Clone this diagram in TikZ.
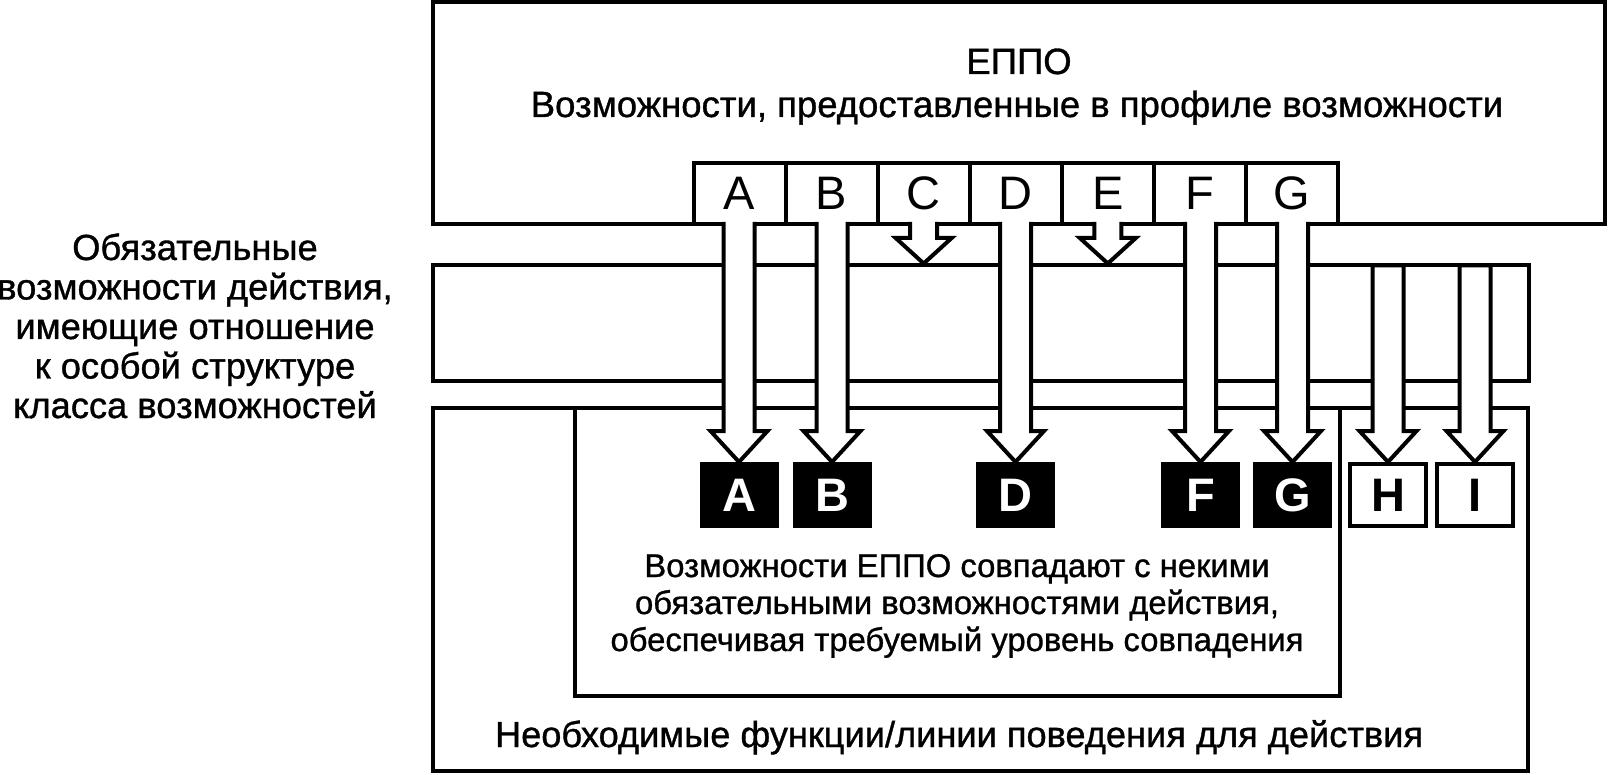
\documentclass[tikz,border=0pt]{standalone}
\usepackage{fontspec}
\setmainfont{Liberation Sans}
\newfontfamily\bodyfont[FakeBold=1]{Liberation Sans}
\usetikzlibrary{calc}
\begin{document}
\begin{tikzpicture}[x=1pt,y=-1pt,line width=4pt,line join=miter,
  frame/.style={draw=black,fill=none,inner sep=0pt,outer sep=0pt},
  tabst/.style={draw=black,inner sep=0pt,outer sep=0pt,minimum width=92.07pt,minimum height=61pt,font=\fontsize{47}{50}\selectfont},
  blk/.style={fill=black,draw=none,inner sep=0pt,outer sep=0pt,minimum width=79pt,minimum height=66pt,text=white,font=\fontsize{47}{50}\selectfont\bfseries},
  wbox/.style={draw=black,fill=white,inner sep=0pt,outer sep=0pt,minimum width=76pt,minimum height=62pt,font=\fontsize{47}{50}\selectfont\bfseries},
  txt/.style={inner sep=0pt,anchor=base},
  topfont/.style={font=\bodyfont\fontsize{36.5}{40}\selectfont},
  leftfont/.style={font=\bodyfont\fontsize{36.3}{40}\selectfont},
  innfont/.style={font=\bodyfont\fontsize{32.8}{37}\selectfont},
  btmfont/.style={font=\bodyfont\fontsize{36.2}{40}\selectfont},
  arrfill/.style={fill=white,draw=none},
  arrline/.style={draw=black,fill=none}]
\useasboundingbox (0,0) rectangle (1609,775);

% main frames
\node[frame,minimum width=1172pt,minimum height=222pt] (top) at (1019,113) {};
\node[frame,minimum width=1096pt,minimum height=116pt] (band) at (981,323.5) {};
\node[frame,minimum width=1095pt,minimum height=363pt] (bot) at (980.5,589.5) {};
\node[frame,minimum width=765.5pt,minimum height=287.5pt] (inner) at (957.25,551.75) {};

% tabs
\foreach \l [count=\i from 0] in {A,B,C,D,E,F,G}
  \node[tabst] (t\l) at ({693.5+46.035+92.07*\i},193.5) {\l};

% target boxes
\node[blk] (bA) at (739,495) {A};
\node[blk] (bB) at (832,495) {B};
\node[blk] (bD) at (1015.5,495) {D};
\node[blk] (bF) at (1200.5,495) {F};
\node[blk] (bG) at (1292.5,495) {G};

% big arrows from tabs to boxes
\foreach \l in {A,B,D,F,G}{
  \path (b\l.north |- t\l.south) coordinate (s) (b\l.north) coordinate (e);
  \fill[arrfill] ($(s)+(-15.5,-2)$) -- ($(e)+(-15.5,-31)$) -- ($(e)+(-28.5,-31)$) -- (e)
     -- ($(e)+(28.5,-31)$) -- ($(e)+(15.5,-31)$) -- ($(s)+(15.5,-2)$) -- cycle;
  \draw[arrline] ($(s)+(-15.5,-2)$) -- ($(e)+(-15.5,-31)$) -- ($(e)+(-28.5,-31)$) -- (e)
     -- ($(e)+(28.5,-31)$) -- ($(e)+(15.5,-31)$) -- ($(s)+(15.5,-2)$);
}
% small arrows from tabs C and E onto the band
\foreach \l in {C,E}{
  \path (t\l.south) coordinate (s) (t\l.south |- band.north) coordinate (e);
  \fill[arrfill] ($(s)+(-13.5,-2)$) -- ($(s)+(-13.5,14)$) -- ($(s)+(-28,14)$) -- ($(e)+(0,-2)$)
     -- ($(s)+(28,14)$) -- ($(s)+(13.5,14)$) -- ($(s)+(13.5,-2)$) -- cycle;
  \draw[arrline] ($(s)+(-13.5,-2)$) -- ($(s)+(-13.5,14)$) -- ($(s)+(-28,14)$) -- ($(e)+(0,-2)$)
     -- ($(s)+(28,14)$) -- ($(s)+(13.5,14)$) -- ($(s)+(13.5,-2)$);
}

% white boxes H and I
\node[wbox] (bH) at (1388,495) {H};
\node[wbox] (bI) at (1475,495) {I};
% arrows from the band to H and I
\foreach \l in {H,I}{
  \path (b\l.north |- band.north) coordinate (s) ($(b\l.north)+(0,-2)$) coordinate (e);
  \filldraw[fill=white,draw=black] (s) ++(-15.5,0) -- ($(e)+(-15.5,-31)$) -- ($(e)+(-28.5,-31)$) -- (e)
     -- ($(e)+(28.5,-31)$) -- ($(e)+(15.5,-31)$) -- ($(s)+(15.5,0)$) -- cycle;
}
\node[wbox] at (bH) {H};
\node[wbox] at (bI) {I};

% texts
\node[txt,topfont] (ttl1) at (1019,74) {ЕППО};
\node[txt,topfont] (ttl2) at (1017,117) {Возможности, предоставленные в профиле возможности};
\foreach \t [count=\i from 0] in {Обязательные,{возможности действия,},имеющие отношение,к особой структуре,класса возможностей}
  \node[txt,leftfont] (lt\i) at (195,{260+39.5*\i}) {\t};
\node[txt,innfont] (in1) at (957,577) {Возможности ЕППО совпадают с некими};
\node[txt,innfont] (in2) at (957,614) {обязательными возможностями действия,};
\node[txt,innfont] (in3) at (957,651) {обеспечивая требуемый уровень совпадения};
\node[txt,btmfont] (btm) at (959,747) {Необходимые функции/линии поведения для действия};
\end{tikzpicture}
\end{document}
